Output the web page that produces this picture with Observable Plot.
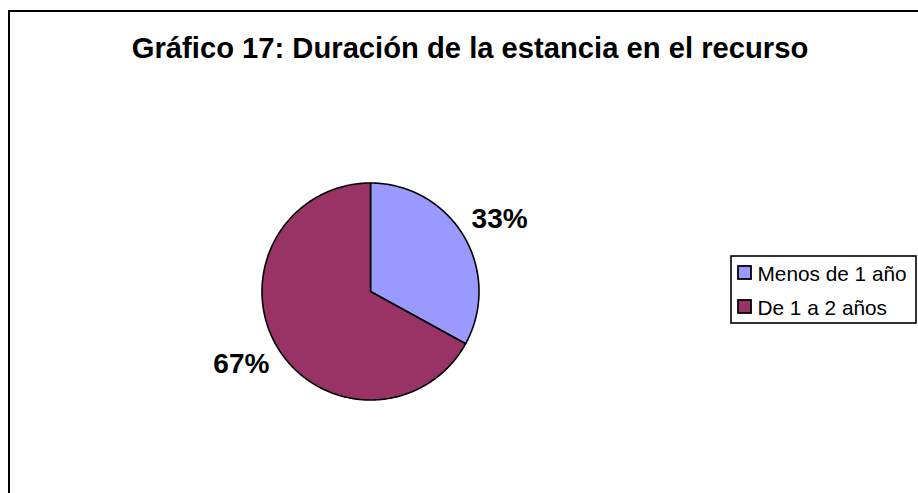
<!DOCTYPE html>
<html><head><meta charset="utf-8">
<script src="https://cdn.jsdelivr.net/npm/d3@7"></script>
<script src="https://cdn.jsdelivr.net/npm/@observablehq/plot@0.6"></script>
<style>
html,body{margin:0;padding:0;background:#fff;overflow:hidden;width:918px;height:493px}
#chart{position:absolute;left:0;top:0}
#frame{position:absolute;left:8px;top:10px;width:1000px;height:600px;border:2px solid #000;pointer-events:none;box-sizing:border-box}
</style></head><body>
<div id="chart"></div><div id="frame"></div>
<script>
const title = "Gráfico 17: Duración de la estancia en el recurso";
const categories = ["Menos de 1 año", "De 1 a 2 años"];
const values = [33, 67];
const labels = ["33%", "67%"];
const colors = ["#9999FF", "#993366"];

// layout
const W = 918, H = 493;
const cx = 370, cy = 291, r = 108.5;
const lrx = 150, lry = 142;
const font = "'Liberation Sans', Arial, sans-serif";

const total = d3.sum(values);
let acc = 0;
const slices = values.map((v, i) => {
  const a0 = acc / total * 2 * Math.PI;
  acc += v;
  const a1 = acc / total * 2 * Math.PI;
  return {name: categories[i], a0, a1, color: colors[i], label: labels[i]};
});

// polygon outline per slice (center -> arc -> center)
const pts = [];
for (const s of slices) {
  pts.push({name: s.name, x: cx, y: cy});
  const n = Math.max(2, Math.ceil((s.a1 - s.a0) / (Math.PI / 360)));
  for (let k = 0; k <= n; k++) {
    const a = s.a0 + (s.a1 - s.a0) * k / n;
    pts.push({name: s.name, x: cx + r * Math.sin(a), y: cy - r * Math.cos(a)});
  }
  pts.push({name: s.name, x: cx, y: cy});
}

const labelData = slices.map(s => {
  const m = (s.a0 + s.a1) / 2;
  return {label: s.label, x: cx + lrx * Math.sin(m), y: cy - lry * Math.cos(m)};
});

// legend
const lg = {x1: 731, x2: 916, y1: 256, y2: 323, row0: 272.5, step: 34};
const legendRows = categories.map((c, i) => ({name: c, color: colors[i], y: lg.row0 + i * lg.step}));

const chart = Plot.plot({
  width: W, height: H,
  margin: 0,
  x: {domain: [0, W], range: [0, W], axis: null},
  y: {domain: [0, H], range: [0, H], axis: null},
  color: {domain: categories, range: colors},
  style: {background: "transparent", fontFamily: font, overflow: "visible"},
  marks: [
    Plot.line(pts, {x: "x", y: "y", z: "name", fill: "name", stroke: "#000", strokeWidth: 1.6, curve: "linear"}),
    Plot.text(labelData, {x: "x", y: "y", text: "label", fontSize: 28, fontWeight: "bold", fill: "#000", lineAnchor: "middle", textAnchor: "middle"}),
    Plot.text([title], {x: () => 469.5, y: () => 57, text: d => d, fontSize: 29.2, fontWeight: "bold", fill: "#000", lineAnchor: "bottom", textAnchor: "middle"}),
    Plot.rect([lg], {x1: "x1", x2: "x2", y1: "y1", y2: "y2", fill: "#fff", stroke: "#000", strokeWidth: 1.6}),
    Plot.rect(legendRows, {x1: () => 738, x2: () => 751, y1: d => d.y - 6.5, y2: d => d.y + 6.5, fill: "name", stroke: "#000", strokeWidth: 1.8}),
    Plot.text(legendRows, {x: () => 757, y: d => d.y + 7.5, text: "name", fontSize: 20.8, fill: "#000", lineAnchor: "bottom", textAnchor: "start"})
  ]
});
document.getElementById("chart").appendChild(chart);
</script>
</body></html>
